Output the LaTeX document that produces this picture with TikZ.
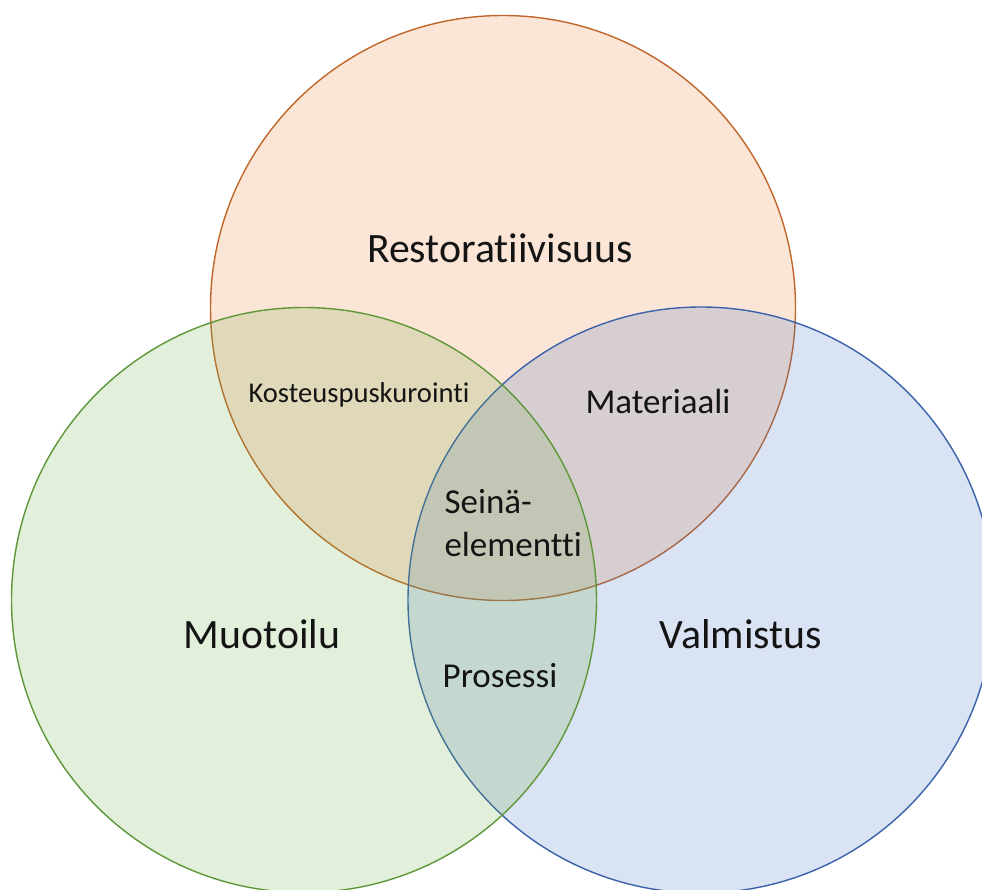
\documentclass[tikz,border=0pt]{standalone}
\usepackage{fontspec}
\setmainfont{Carlito}[Ligatures={NoCommon}]
\definecolor{orA}{HTML}{ED7D31}
\definecolor{grA}{HTML}{70AD47}
\definecolor{blA}{HTML}{4472C4}
\definecolor{orL}{HTML}{C0662A}
\definecolor{grL}{HTML}{5E9638}
\definecolor{blL}{HTML}{3A62AA}
\definecolor{txt}{HTML}{141414}
\tikzset{
  venn/.style={line width=1.4pt, fill opacity=0.2},
  big/.style={text=txt, font=\fontsize{41.8}{50}\selectfont},
  mid/.style={text=txt, font=\fontsize{35}{42.5}\selectfont},
  small/.style={text=txt, font=\fontsize{28.6}{34}\selectfont},
}
\begin{document}
\begin{tikzpicture}[x=1pt,y=-1pt]
\useasboundingbox (0,0) rectangle (982,890);
\clip (0,0) rectangle (982,890);
\draw[venn, draw=orL, fill=orA] (503,308) circle[radius=292.5];
\draw[venn, draw=blL, fill=blA] (701,600) circle[radius=293];
\draw[venn, draw=grL, fill=grA] (304,600) circle[radius=292.5];
\node[big] (rest) at (500,248) {Restoratiivisuus};
\node[big] (muot) at (262,634) {Muotoilu};
\node[big] (valm) at (741,634) {Valmistus};
\node[small] (kost) at (359,395) {Kosteuspuskurointi};
\node[mid] (mate) at (658,401) {Materiaali};
\node[mid, align=left, anchor=west] (sein) at (441,523) {Seinä-\\elementti};
\node[mid] (pros) at (500,676) {Prosessi};
\end{tikzpicture}
\end{document}
